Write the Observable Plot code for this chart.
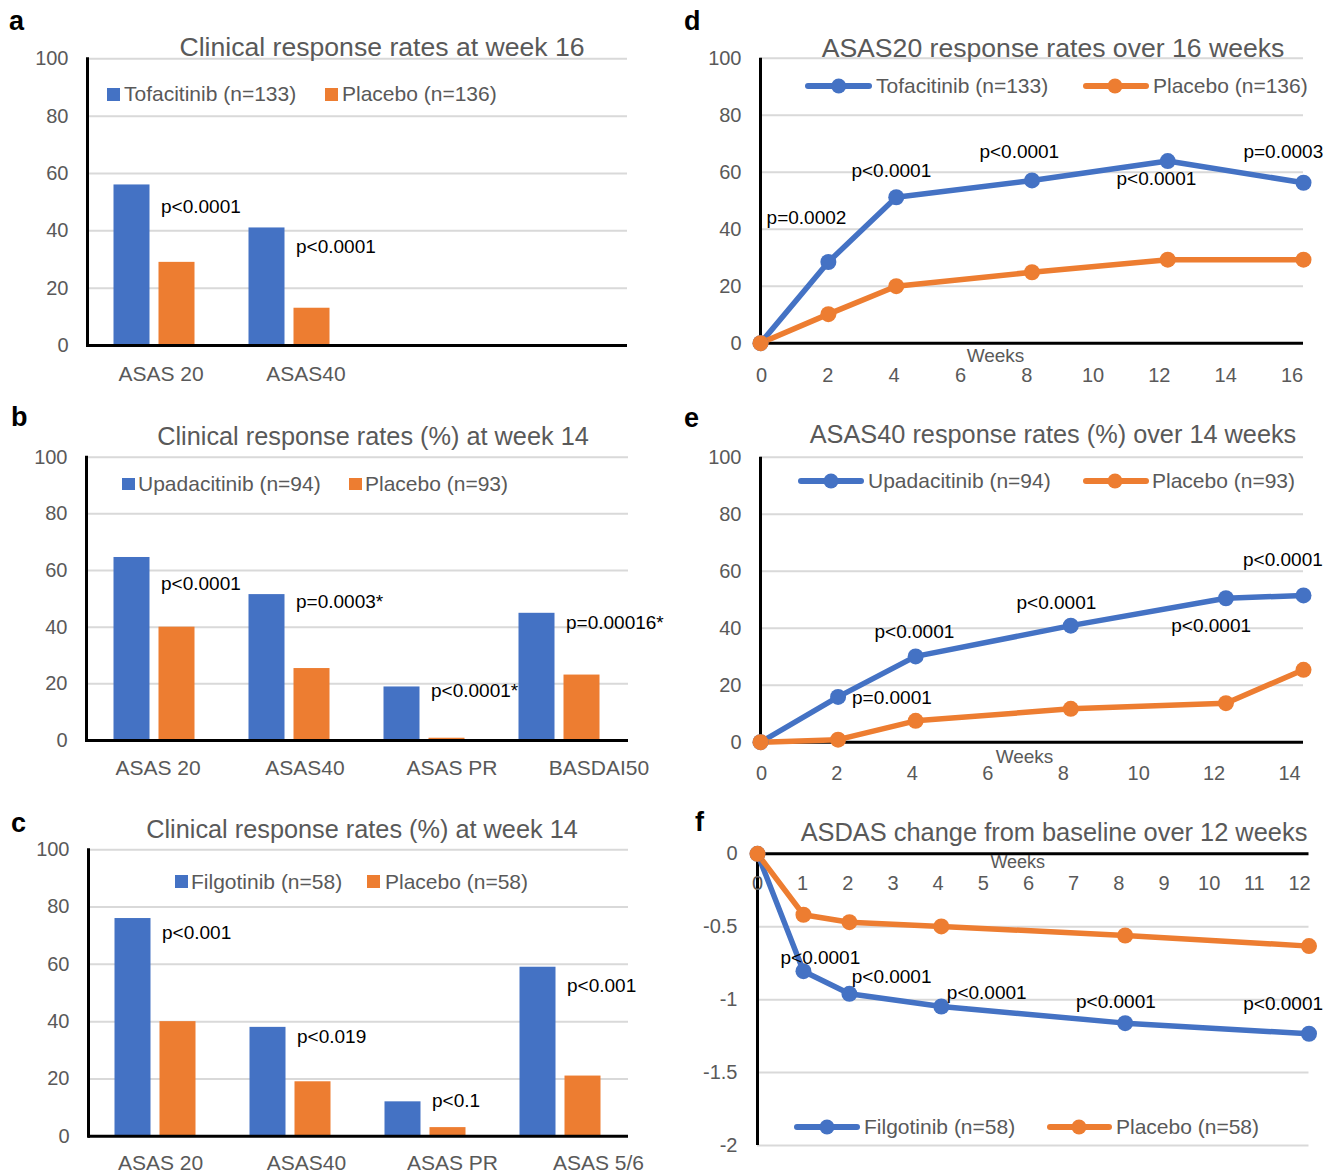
<!DOCTYPE html>
<html>
<head>
<meta charset="utf-8">
<script src="https://cdn.jsdelivr.net/npm/d3@7"></script>
<script src="https://cdn.jsdelivr.net/npm/@observablehq/plot@0.6"></script>
<style>
  html, body { margin: 0; padding: 0; background: #fff; }
  #fig { position: relative; width: 1336px; height: 1174px; overflow: hidden; background: #fff;
         font-family: "Liberation Sans", Arial, Helvetica, sans-serif; }
</style>
</head>
<body>
<div id="fig"></div>
<script>
// ---------------- DATA ----------------
const yTicksBar = [0, 20, 40, 60, 80, 100];
const yTicksF = [0, -0.5, -1, -1.5, -2];

// Panel a
const catsA = ["ASAS 20", "ASAS40", " ", "  "];
const namesA = ["Tofacitinib (n=133)", "Placebo (n=136)"];
const tofaA = [56, 41];
const placA = [29, 13];
const pTextA = ["p<0.0001", "p<0.0001"];
const pValueA = [48.4, 34.5];

// Panel b
const catsB = ["ASAS 20", "ASAS40", "ASAS PR", "BASDAI50"];
const namesB = ["Upadacitinib (n=94)", "Placebo (n=93)"];
const upaB = [64.6, 51.5, 18.9, 44.9];
const placB = [40, 25.4, 0.8, 23.1];
const pTextB = ["p<0.0001", "p=0.0003*", "p<0.0001*", "p=0.00016*"];
const pValueB = [55.3, 48.9, 17.6, 41.5];

// Panel c
const catsC = ["ASAS 20", "ASAS40", "ASAS PR", "ASAS 5/6"];
const namesC = ["Filgotinib (n=58)", "Placebo (n=58)"];
const filgoC = [76, 38, 12, 59];
const placC = [40, 19, 3, 21];
const pTextC = ["p<0.001", "p<0.019", "p<0.1", "p<0.001"];
const pValueC = [71.1, 34.8, 12.2, 52.6];

// Panel d
const weeksD = [0, 2, 4, 8, 12, 16];
const tofaD = [0, 28.5, 51.2, 57.1, 63.9, 56.3];
const placD = [0, 10.2, 20, 24.9, 29.3, 29.3];
const xTicksD = [0, 2, 4, 6, 8, 10, 12, 14, 16];
const pTextD = ["p=0.0002", "p<0.0001", "p<0.0001", "p<0.0001", "p=0.0003"];
const pWeekD = [0.18, 2.68, 6.45, 10.49, 14.23];
const pValueD = [44.1, 60.5, 67.1, 57.7, 67.1];

// Panel e
const weeksE = [0, 2, 4, 8, 12, 14];
const upaE = [0, 15.9, 30.1, 40.9, 50.5, 51.5];
const placE = [0, 0.9, 7.5, 11.7, 13.7, 25.4];
const xTicksE = [0, 2, 4, 6, 8, 10, 12, 14];
const pTextE = ["p=0.0001", "p<0.0001", "p<0.0001", "p<0.0001", "p<0.0001"];
const pWeekE = [2.36, 2.94, 6.6, 10.59, 12.44];
const pValueE = [15.4, 38.8, 48.9, 40.8, 64.1];

// Panel f
const weeksF = [0, 1, 2, 4, 8, 12];
const filgoF = [0, -0.805, -0.96, -1.047, -1.161, -1.234];
const placF = [0, -0.418, -0.469, -0.498, -0.56, -0.633];
const xTicksF = [0, 1, 2, 3, 4, 5, 6, 7, 8, 9, 10, 11, 12];
const pTextF = ["p<0.0001", "p<0.0001", "p<0.0001", "p<0.0001", "p<0.0001"];
const pWeekF = [0.5, 2.05, 4.12, 6.93, 10.57];
const pValueF = [-0.712, -0.842, -0.952, -1.014, -1.027];

// ---------------- STYLE ----------------
const FONT = '"Liberation Sans", Arial, Helvetica, sans-serif';
const BLUE = "#4472C4", ORANGE = "#ED7D31", GRAY = "#595959", GRID = "#d9d9d9";
const STYLE = {fontFamily: FONT, background: "transparent", overflow: "visible"};
const fig = document.getElementById("fig");

function place(node, left, top) {
  node.style.position = "absolute";
  node.style.left = left + "px";
  node.style.top = top + "px";
  node.style.maxWidth = "none";
  fig.appendChild(node);
}

function label(text, x, y, {size = 21, color = GRAY, weight = "normal", center = false} = {}) {
  const d = document.createElement("div");
  d.textContent = text;
  Object.assign(d.style, {
    position: "absolute", left: x + "px", top: y + "px", fontSize: size + "px",
    color, fontWeight: weight, whiteSpace: "nowrap", lineHeight: "1.15",
    transform: center ? "translate(-50%,-50%)" : "translateY(-50%)"
  });
  fig.appendChild(d);
}

function square(x, y, s, color) {
  const d = document.createElement("div");
  Object.assign(d.style, {position: "absolute", left: x + "px", top: y + "px",
    width: s + "px", height: s + "px", background: color});
  fig.appendChild(d);
}

function lineSwatch(x1, x2, cx, y, color) {
  const w = x2 - x1;
  const svg = d3.create("svg").attr("width", w + 20).attr("height", 24)
    .style("position", "absolute").style("left", (x1 - 10) + "px").style("top", (y - 12) + "px")
    .style("overflow", "visible");
  svg.append("line").attr("x1", 13).attr("x2", w + 7).attr("y1", 12).attr("y2", 12)
    .attr("stroke", color).attr("stroke-width", 6).attr("stroke-linecap", "round");
  svg.append("circle").attr("cx", cx - x1 + 10).attr("cy", 12).attr("r", 7.5).attr("fill", color);
  fig.appendChild(svg.node());
}

// tick-label strip drawn by Plot with its own scale
function tickStrip(left, centerY, scaleOpts, ticks, fontSize) {
  const p = Plot.plot({
    width: 668, height: 30, margin: 0, style: STYLE,
    x: {...scaleOpts, axis: null, label: null},
    marks: [Plot.text(ticks, {x: d => d, text: d => String(d), fontSize, fill: GRAY})]
  });
  place(p, left, centerY - 15);
}

function barPanel(o) {
  const s1 = o.v1.map((v, i) => ({cat: o.cats[i], v}));
  const s2 = o.v2.map((v, i) => ({cat: o.cats[i], v}));
  const pr = o.pText.map((t, i) => ({cat: o.cats[i], y: o.pY[i], t}));
  const main = Plot.plot({
    width: 668, height: o.h, marginLeft: o.ml, marginRight: o.mr, marginTop: o.mt, marginBottom: o.mb,
    style: STYLE,
    x: {domain: o.cats, padding: 0, axis: null, label: null},
    y: {domain: [0, 100], label: null},
    marks: [
      Plot.ruleY(yTicksBar.filter(d => d > 0), {stroke: GRID, strokeWidth: 2}),
      Plot.barY(s1, {x: "cat", y: "v", fill: BLUE, insetLeft: 26.5, insetRight: 72.5}),
      Plot.barY(s2, {x: "cat", y: "v", fill: ORANGE, insetLeft: 71.5, insetRight: 27.5}),
      Plot.ruleY([0], {stroke: "#000", strokeWidth: 3}),
      Plot.frame({anchor: "left", stroke: "#000", strokeWidth: 3}),
      Plot.axisY({ticks: yTicksBar, tickSize: 0, tickPadding: 19, fontSize: 20, fill: GRAY}),
      Plot.text(pr, {x: "cat", y: "y", text: "t", textAnchor: "start", dx: 6, fontSize: 19, fill: "#000"})
    ]
  });
  place(main, o.left, o.top);
  tickStrip(o.left, o.labY, {type: "band", domain: o.cats, range: o.labRange, padding: 0}, o.cats, 21);
}

function linePanel(o) {
  const rows = [
    ...o.v1.map((v, i) => ({w: o.weeks[i], v, s: o.names[0]})),
    ...o.v2.map((v, i) => ({w: o.weeks[i], v, s: o.names[1]}))
  ];
  const pr = o.pText.map((t, i) => ({w: o.pW[i], v: o.pV[i], t}));
  const main = Plot.plot({
    width: 668, height: o.h, marginLeft: o.ml, marginRight: o.mr, marginTop: o.mt, marginBottom: o.mb,
    style: STYLE,
    x: {domain: o.xDomain, axis: null, label: null},
    y: {domain: o.yDomain, label: null},
    color: {domain: o.names, range: [BLUE, ORANGE]},
    marks: [
      Plot.ruleY(o.grid, {stroke: GRID, strokeWidth: 2}),
      Plot.ruleY([0], {stroke: "#000", strokeWidth: 3}),
      Plot.ruleX([0], {stroke: "#000", strokeWidth: 3}),
      Plot.axisY({ticks: o.yTicks, tickFormat: d => String(d), tickSize: 0, tickPadding: o.yPad, fontSize: 20, fill: GRAY}),
      Plot.line(rows, {x: "w", y: "v", z: "s", stroke: "s", strokeWidth: 5.5}),
      Plot.dot(rows, {x: "w", y: "v", fill: "s", r: 8}),
      Plot.text(["Weeks"], {text: d => d, frameAnchor: o.wAnchor, lineAnchor: "middle",
        dx: o.wDx, dy: o.wDy, fontSize: o.wSize, fill: GRAY}),
      Plot.text(pr, {x: "w", y: "v", text: "t", textAnchor: "start", fontSize: 19, fill: "#000"})
    ]
  });
  place(main, o.left, o.top);
  tickStrip(o.left, o.labY, {type: "linear", domain: o.xDomain, range: o.labRange}, o.xTicks, 20);
}

// ---------------- PANELS ----------------
// a
barPanel({cats: catsA, v1: tofaA, v2: placA, pText: pTextA, pY: pValueA,
  left: 0, top: 0, h: 400, ml: 87, mr: 41, mt: 58.3, mb: 55,
  labY: 374, labRange: [87.5, 667.5]});
label("a", 9, 22, {size: 27, color: "#000", weight: "bold"});
label("Clinical response rates at week 16", 382, 47, {size: 26.6, center: true});
square(107, 87.5, 13, BLUE); label(namesA[0], 124, 94);
square(325, 87.5, 13, ORANGE); label(namesA[1], 342, 94);

// b
barPanel({cats: catsB, v1: upaB, v2: placB, pText: pTextB, pY: pValueB,
  left: 0, top: 400, h: 400, ml: 86, mr: 40, mt: 56.7, mb: 60,
  labY: 768, labRange: [83.3, 672.5]});
label("b", 11, 418, {size: 27, color: "#000", weight: "bold"});
label("Clinical response rates (%) at week 14", 373, 437, {size: 25.3, center: true});
square(122, 477.5, 12.5, BLUE); label(namesB[0], 138, 484);
square(349, 477.5, 12.5, ORANGE); label(namesB[1], 365, 484);

// c
barPanel({cats: catsC, v1: filgoC, v2: placC, pText: pTextC, pY: pValueC,
  left: 0, top: 800, h: 374, ml: 88, mr: 40, mt: 49.3, mb: 38.3,
  labY: 1163, labRange: [86, 672]});
label("c", 11, 824, {size: 27, color: "#000", weight: "bold"});
label("Clinical response rates (%) at week 14", 362, 829.5, {size: 25.3, center: true});
square(175, 875, 13, BLUE); label(namesC[0], 191, 881.5);
square(367, 875, 13, ORANGE); label(namesC[1], 385, 881.5);

// d
linePanel({weeks: weeksD, v1: tofaD, v2: placD, names: namesA,
  pText: pTextD, pW: pWeekD, pV: pValueD,
  left: 668, top: 0, h: 400, ml: 92, mr: 33, mt: 57.7, mb: 57.3,
  xDomain: [0, 16], yDomain: [0, 100], grid: [20, 40, 60, 80, 100], yTicks: yTicksBar, yPad: 19,
  wAnchor: "bottom", wDx: -36.5, wDy: 13, wSize: 19,
  labY: 375, labRange: [93, 623.5], xTicks: xTicksD});
label("d", 684, 22, {size: 27, color: "#000", weight: "bold"});
label("ASAS20 response rates over 16 weeks", 1053, 47.5, {size: 26.6, center: true});
lineSwatch(805, 872, 838.7, 86, BLUE); label(namesA[0], 876, 86);
lineSwatch(1083, 1149, 1115, 86, ORANGE); label(namesA[1], 1153, 86);

// e
linePanel({weeks: weeksE, v1: upaE, v2: placE, names: namesB,
  pText: pTextE, pW: pWeekE, pV: pValueE,
  left: 668, top: 400, h: 400, ml: 92, mr: 33, mt: 56.7, mb: 58.3,
  xDomain: [0, 14], yDomain: [0, 100], grid: [20, 40, 60, 80, 100], yTicks: yTicksBar, yPad: 19,
  wAnchor: "bottom", wDx: -7.5, wDy: 15, wSize: 19,
  labY: 773, labRange: [93, 621], xTicks: xTicksE});
label("e", 684, 419, {size: 27, color: "#000", weight: "bold"});
label("ASAS40 response rates (%) over 14 weeks", 1053, 435, {size: 25.3, center: true});
lineSwatch(798, 864, 831, 481, BLUE); label(namesB[0], 868, 481);
lineSwatch(1083, 1149, 1115, 481, ORANGE); label(namesB[1], 1152, 481);

// f
linePanel({weeks: weeksF, v1: filgoF, v2: placF, names: namesC,
  pText: pTextF, pW: pWeekF, pV: pValueF,
  left: 668, top: 800, h: 374, ml: 89, mr: 27.5, mt: 53.3, mb: 29,
  xDomain: [0, 12], yDomain: [-2, 0], grid: [-0.5, -1, -1.5, -2], yTicks: yTicksF, yPad: 20,
  wAnchor: "top", wDx: -15.5, wDy: 8.5, wSize: 18,
  labY: 882.5, labRange: [89, 631], xTicks: xTicksF});
label("f", 695, 823, {size: 27, color: "#000", weight: "bold"});
label("ASDAS change from baseline over 12 weeks", 1054, 833, {size: 25.4, center: true});
lineSwatch(794, 860, 827, 1126.7, BLUE); label(namesC[0], 864, 1126.7);
lineSwatch(1047, 1112, 1079, 1126.7, ORANGE); label(namesC[1], 1116, 1126.7);
</script>
</body>
</html>
